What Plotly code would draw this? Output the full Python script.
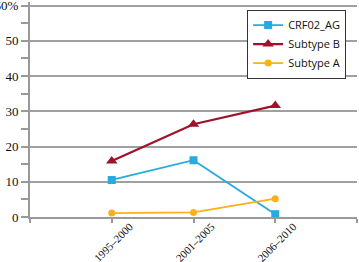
import plotly.graph_objects as go

periods = ["1995–2000", "2001–2005", "2006–2010"]
crf02_ag = [10.5, 16.1, 0.8]
subtype_b = [15.9, 26.3, 31.6]
subtype_a = [1.1, 1.3, 5.2]
y_ticks = [0, 10, 20, 30, 40, 50, 60]
y_labels = ["0", "10", "20", "30", "40", "50", "60%"]

xpos = list(range(1, len(periods) + 1))

fig = go.Figure()
fig.add_trace(go.Scatter(x=xpos, y=crf02_ag, name="CRF02_AG", mode="lines+markers",
                         line=dict(color="#27AAE1", width=1.8),
                         marker=dict(symbol="square", size=8, color="#27AAE1")))
fig.add_trace(go.Scatter(x=xpos, y=subtype_b, name="Subtype B", mode="lines+markers",
                         line=dict(color="#A0112B", width=2.2),
                         marker=dict(symbol="triangle-up", size=10, color="#A0112B")))
fig.add_trace(go.Scatter(x=xpos, y=subtype_a, name="Subtype A", mode="lines+markers",
                         line=dict(color="#FBB01A", width=1.8),
                         marker=dict(symbol="circle", size=7, color="#FBB01A")))

fig.update_layout(
    width=359, height=262,
    margin=dict(l=30, r=2, t=2, b=45),
    plot_bgcolor="white", paper_bgcolor="white",
    showlegend=True,
    legend=dict(x=0.664, y=0.965, xanchor="left", yanchor="top",
                bgcolor="white", bordercolor="#333333", borderwidth=1,
                font=dict(family="Open Sans", size=11, color="#111111"),
                tracegroupgap=0, itemwidth=30),
    xaxis=dict(range=[0, 4], tickvals=[0] + xpos + [4], ticktext=[""] + periods + [""],
               tickangle=-45, ticks="outside", ticklen=4, tickcolor="#999999", tickwidth=1.5,
               ticklabelshift=18, ticklabelstandoff=-7, automargin=False,
               ticklabeloverflow="allow",
               showline=True, linecolor="#999999", linewidth=2, showgrid=False, zeroline=False,
               tickfont=dict(family="Liberation Serif", size=11, color="#111111")),
    yaxis=dict(range=[0, 61], tickmode="array", tickvals=y_ticks, ticktext=y_labels,
               automargin=False, ticklabeloverflow="allow",
               ticks="outside", ticklen=7, tickcolor="#999999", tickwidth=1.5,
               minor=dict(ticks="outside", dtick=5, ticklen=7, tickcolor="#999999", tickwidth=1.5,
                          showgrid=False),
               showline=True, linecolor="#999999", linewidth=2,
               showgrid=True, gridcolor="#A0A0A0", gridwidth=1.5, zeroline=False,
               tickfont=dict(family="Liberation Serif", size=13, color="#111111")),
)

fig.write_html("out.html", config={"displayModeBar": False},
               post_script="document.body.style.margin='0';document.body.style.overflow='hidden';")
